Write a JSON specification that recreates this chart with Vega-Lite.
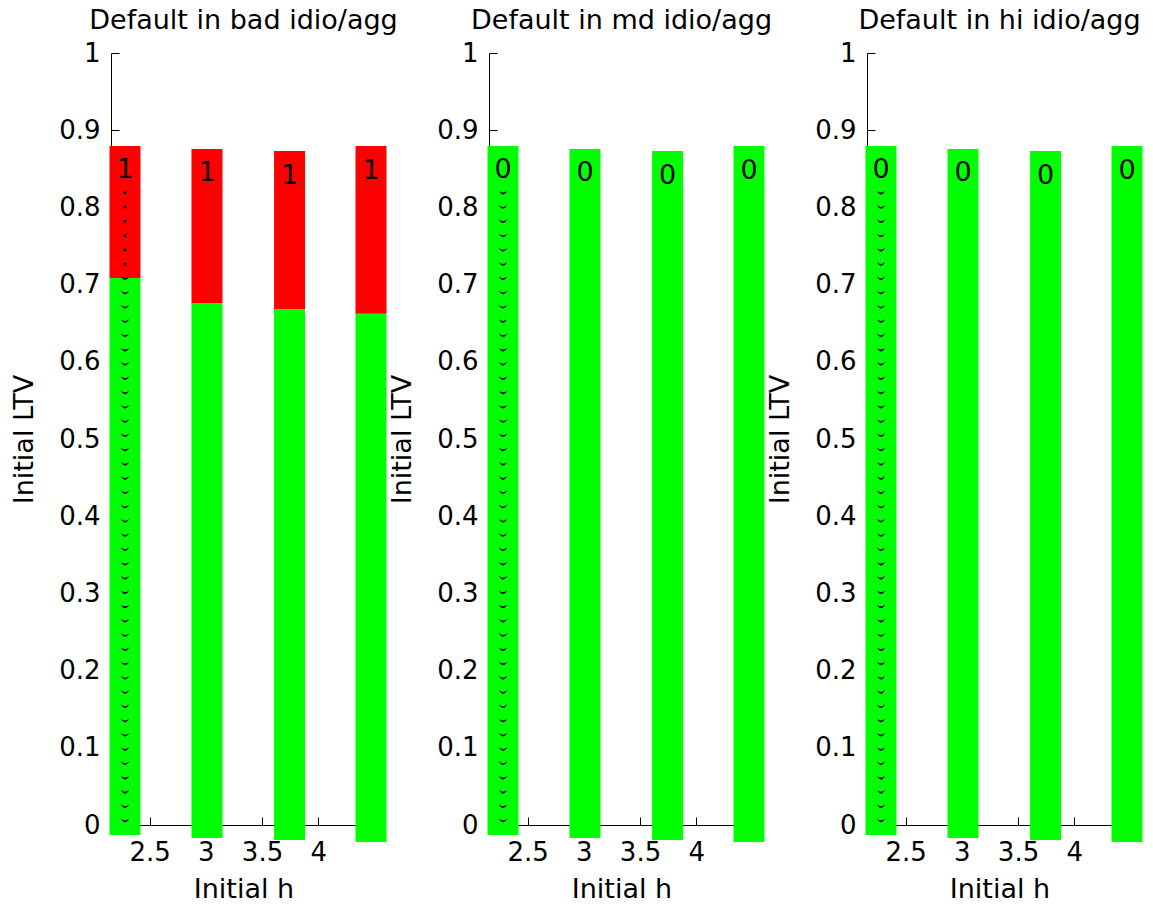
{
  "$schema": "https://vega.github.io/schema/vega-lite/v6.json",
  "padding": {"left": 10, "top": 7, "right": 0, "bottom": 0},
  "data": {
    "values": [
      {"panel": "Default in bad idio/agg", "kind": "seg", "h": 2.28, "lo": -0.013, "hi": 0.7085, "flag": 0},
      {"panel": "Default in bad idio/agg", "kind": "seg", "h": 2.28, "lo": 0.7085, "hi": 0.8795, "flag": 1},
      {"panel": "Default in bad idio/agg", "kind": "seg", "h": 3.01, "lo": -0.0168, "hi": 0.6757, "flag": 0},
      {"panel": "Default in bad idio/agg", "kind": "seg", "h": 3.01, "lo": 0.6757, "hi": 0.8756, "flag": 1},
      {"panel": "Default in bad idio/agg", "kind": "seg", "h": 3.745, "lo": -0.0194, "hi": 0.668, "flag": 0},
      {"panel": "Default in bad idio/agg", "kind": "seg", "h": 3.745, "lo": 0.668, "hi": 0.8731, "flag": 1},
      {"panel": "Default in bad idio/agg", "kind": "seg", "h": 4.47, "lo": -0.022, "hi": 0.6623, "flag": 0},
      {"panel": "Default in bad idio/agg", "kind": "seg", "h": 4.47, "lo": 0.6623, "hi": 0.8795, "flag": 1},
      {"panel": "Default in md idio/agg", "kind": "seg", "h": 2.28, "lo": -0.013, "hi": 0.8795, "flag": 0},
      {"panel": "Default in md idio/agg", "kind": "seg", "h": 3.01, "lo": -0.0168, "hi": 0.8756, "flag": 0},
      {"panel": "Default in md idio/agg", "kind": "seg", "h": 3.745, "lo": -0.0194, "hi": 0.8731, "flag": 0},
      {"panel": "Default in md idio/agg", "kind": "seg", "h": 4.47, "lo": -0.022, "hi": 0.8795, "flag": 0},
      {"panel": "Default in hi idio/agg", "kind": "seg", "h": 2.28, "lo": -0.013, "hi": 0.8795, "flag": 0},
      {"panel": "Default in hi idio/agg", "kind": "seg", "h": 3.01, "lo": -0.0168, "hi": 0.8756, "flag": 0},
      {"panel": "Default in hi idio/agg", "kind": "seg", "h": 3.745, "lo": -0.0194, "hi": 0.8731, "flag": 0},
      {"panel": "Default in hi idio/agg", "kind": "seg", "h": 4.47, "lo": -0.022, "hi": 0.8795, "flag": 0},

      {"panel": "Default in bad idio/agg", "kind": "label", "h": 2.28, "ltv": 0.8484, "flag": 1},
      {"panel": "Default in bad idio/agg", "kind": "label", "h": 3.01, "ltv": 0.8446, "flag": 1},
      {"panel": "Default in bad idio/agg", "kind": "label", "h": 3.745, "ltv": 0.8407, "flag": 1},
      {"panel": "Default in bad idio/agg", "kind": "label", "h": 4.47, "ltv": 0.8472, "flag": 1},
      {"panel": "Default in md idio/agg", "kind": "label", "h": 2.28, "ltv": 0.8484, "flag": 0},
      {"panel": "Default in md idio/agg", "kind": "label", "h": 3.01, "ltv": 0.8446, "flag": 0},
      {"panel": "Default in md idio/agg", "kind": "label", "h": 3.745, "ltv": 0.8407, "flag": 0},
      {"panel": "Default in md idio/agg", "kind": "label", "h": 4.47, "ltv": 0.8472, "flag": 0},
      {"panel": "Default in hi idio/agg", "kind": "label", "h": 2.28, "ltv": 0.8484, "flag": 0},
      {"panel": "Default in hi idio/agg", "kind": "label", "h": 3.01, "ltv": 0.8446, "flag": 0},
      {"panel": "Default in hi idio/agg", "kind": "label", "h": 3.745, "ltv": 0.8407, "flag": 0},
      {"panel": "Default in hi idio/agg", "kind": "label", "h": 4.47, "ltv": 0.8472, "flag": 0},

      {"panel": "Default in bad idio/agg", "kind": "grid", "h": 2.28,
       "ltv": [0.8299,0.8114,0.7930,0.7745,0.7560,0.7375,0.7190,0.7006,0.6821,0.6636,0.6451,0.6266,0.6082,0.5897,0.5712,0.5527,0.5342,0.5158,0.4973,0.4788,0.4603,0.4418,0.4234,0.4049,0.3864,0.3679,0.3494,0.3310,0.3125,0.2940,0.2755,0.2570,0.2386,0.2201,0.2016,0.1831,0.1646,0.1462,0.1277,0.1092,0.0907,0.0722,0.0538,0.0353,0.0168],
       "flag": [1,1,1,1,1,1,0,0,0,0,0,0,0,0,0,0,0,0,0,0,0,0,0,0,0,0,0,0,0,0,0,0,0,0,0,0,0,0,0,0,0,0,0,0,0]},
      {"panel": "Default in md idio/agg", "kind": "grid", "h": 2.28,
       "ltv": [0.8299,0.8114,0.7930,0.7745,0.7560,0.7375,0.7190,0.7006,0.6821,0.6636,0.6451,0.6266,0.6082,0.5897,0.5712,0.5527,0.5342,0.5158,0.4973,0.4788,0.4603,0.4418,0.4234,0.4049,0.3864,0.3679,0.3494,0.3310,0.3125,0.2940,0.2755,0.2570,0.2386,0.2201,0.2016,0.1831,0.1646,0.1462,0.1277,0.1092,0.0907,0.0722,0.0538,0.0353,0.0168],
       "flag": [0,0,0,0,0,0,0,0,0,0,0,0,0,0,0,0,0,0,0,0,0,0,0,0,0,0,0,0,0,0,0,0,0,0,0,0,0,0,0,0,0,0,0,0,0]},
      {"panel": "Default in hi idio/agg", "kind": "grid", "h": 2.28,
       "ltv": [0.8299,0.8114,0.7930,0.7745,0.7560,0.7375,0.7190,0.7006,0.6821,0.6636,0.6451,0.6266,0.6082,0.5897,0.5712,0.5527,0.5342,0.5158,0.4973,0.4788,0.4603,0.4418,0.4234,0.4049,0.3864,0.3679,0.3494,0.3310,0.3125,0.2940,0.2755,0.2570,0.2386,0.2201,0.2016,0.1831,0.1646,0.1462,0.1277,0.1092,0.0907,0.0722,0.0538,0.0353,0.0168],
       "flag": [0,0,0,0,0,0,0,0,0,0,0,0,0,0,0,0,0,0,0,0,0,0,0,0,0,0,0,0,0,0,0,0,0,0,0,0,0,0,0,0,0,0,0,0,0]}
    ]
  },
  "facet": {
    "column": {
      "field": "panel",
      "type": "nominal",
      "sort": ["Default in bad idio/agg", "Default in md idio/agg", "Default in hi idio/agg"],
      "header": {
        "title": null,
        "labelFont": "DejaVu Sans",
        "labelFontSize": 27,
        "labelColor": "black",
        "labelPadding": 18
      }
    }
  },
  "spacing": 113,
  "bounds": "flush",
  "resolve": {"axis": {"y": "independent", "x": "independent"}},
  "spec": {
    "width": 265,
    "height": 772,
    "encoding": {
      "x": {
        "field": "h",
        "type": "quantitative",
        "scale": {"domain": [2.2, 4.47], "nice": false, "zero": false},
        "axis": {
          "title": "Initial h",
          "values": [2.5, 3, 3.5, 4],
          "format": "~g",
          "tickSize": -8,
          "labelPadding": 22,
          "titlePadding": 11,
          "labelFlush": false,
          "labelOverlap": false
        }
      }
    },
    "layer": [
      {
        "transform": [{"filter": "datum.kind === 'seg'"}],
        "mark": {"type": "bar", "orient": "vertical", "size": 31},
        "encoding": {
          "y": {
            "field": "lo",
            "type": "quantitative",
            "scale": {"domain": [0, 1], "nice": false, "zero": false},
            "axis": {
              "title": "Initial LTV",
              "values": [0, 0.1, 0.2, 0.3, 0.4, 0.5, 0.6, 0.7, 0.8, 0.9, 1],
              "format": "~g",
              "tickSize": -8,
              "labelPadding": 19,
              "titlePadding": 20,
              "labelFlush": false,
              "labelOverlap": false
            }
          },
          "y2": {"field": "hi"},
          "color": {
            "field": "flag",
            "type": "nominal",
            "scale": {"domain": [0, 1], "range": ["#00ff00", "#ff0000"]},
            "legend": null
          }
        }
      },
      {
        "transform": [{"filter": "datum.kind === 'label'"}],
        "mark": {"type": "text", "font": "DejaVu Sans", "fontSize": 27, "color": "black", "baseline": "middle", "align": "center"},
        "encoding": {
          "y": {"field": "ltv", "type": "quantitative"},
          "text": {"field": "flag", "type": "nominal"}
        }
      },
      {
        "transform": [
          {"filter": "datum.kind === 'grid'"},
          {"flatten": ["ltv", "flag"]}
        ],
        "mark": {"type": "point", "filled": true, "color": "black", "opacity": 1, "size": 72, "yOffset": 8.5, "strokeWidth": 0},
        "encoding": {
          "y": {"field": "ltv", "type": "quantitative"},
          "shape": {
            "field": "flag",
            "type": "nominal",
            "scale": {
              "domain": [0, 1],
              "range": ["M-1,-0.5 Q0,1.3 1,-0.5 Q0,0.4 -1,-0.5 Z", "M-0.35,-0.3 L0.35,-0.3 L0.35,0.3 L-0.35,0.3 Z"]
            },
            "legend": null
          }
        }
      }
    ]
  },
  "config": {
    "view": {"stroke": null},
    "axis": {
      "grid": false,
      "domainColor": "black",
      "domainWidth": 1,
      "tickColor": "black",
      "tickWidth": 1,
      "labelColor": "black",
      "titleColor": "black",
      "labelFont": "DejaVu Sans",
      "titleFont": "DejaVu Sans",
      "labelFontSize": 26,
      "titleFontSize": 27,
      "titleFontWeight": "normal"
    }
  }
}
